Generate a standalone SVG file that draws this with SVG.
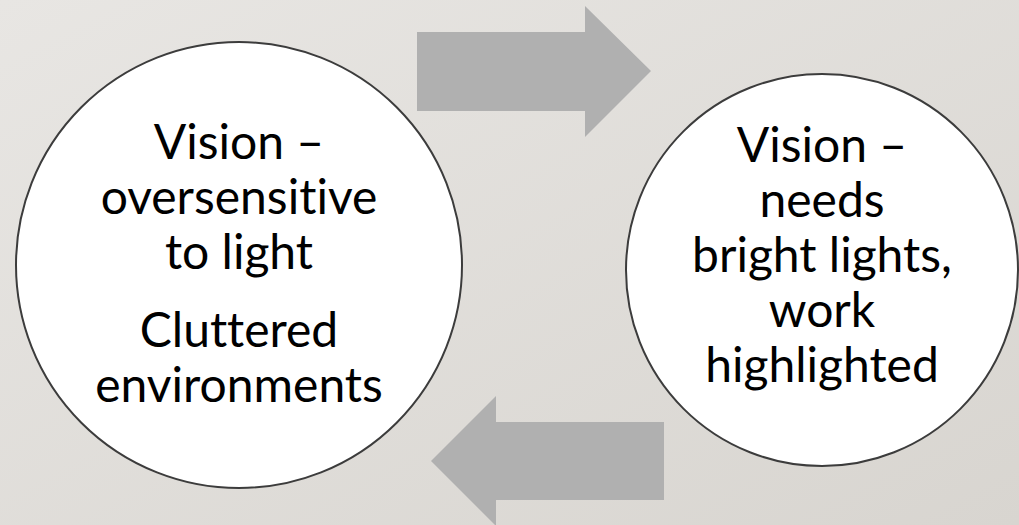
<svg xmlns="http://www.w3.org/2000/svg" width="1019" height="525" viewBox="0 0 1019 525">
  <defs>
    <linearGradient id="bg" x1="0" y1="0" x2="1" y2="1">
      <stop offset="0" stop-color="#e8e6e3"/>
      <stop offset="1" stop-color="#d8d5d0"/>
    </linearGradient>
    <style>
      .node circle { fill: #ffffff; stroke: #3c3c3c; stroke-width: 2; }
      .node text { font-family: "Lato", "Open Sans", sans-serif; font-size: 48px; fill: #000000; text-anchor: middle; font-variant-ligatures: none; font-feature-settings: "liga" 0, "clig" 0; }
      .arrow { fill: #b0b0b0; }
    </style>
  </defs>

  <!-- slide background -->
  <rect x="0" y="0" width="1019" height="525" fill="url(#bg)"/>

  <!-- block arrows linking the two circles -->
  <g id="connectors">
    <polygon class="arrow" points="417,32 585,32 585,6 651,71 585,137 585,111 417,111"/>
    <polygon class="arrow" points="664,422 496,422 496,396 431,461 496,526 496,500 664,500"/>
  </g>

  <g id="node-left" class="node">
    <circle cx="239" cy="265" r="223"/>
    <text x="239" y="159">Vision –</text>
    <text x="239" y="214">oversensitive</text>
    <text x="239" y="269">to light</text>
    <text x="239" y="347">Cluttered</text>
    <text x="239" y="402">environments</text>
  </g>

  <g id="node-right" class="node">
    <circle cx="822" cy="270" r="196"/>
    <text x="822" y="162">Vision –</text>
    <text x="822" y="217">needs</text>
    <text x="822" y="272">bright lights,</text>
    <text x="822" y="327">work</text>
    <text x="822" y="382">highlighted</text>
  </g>
</svg>
